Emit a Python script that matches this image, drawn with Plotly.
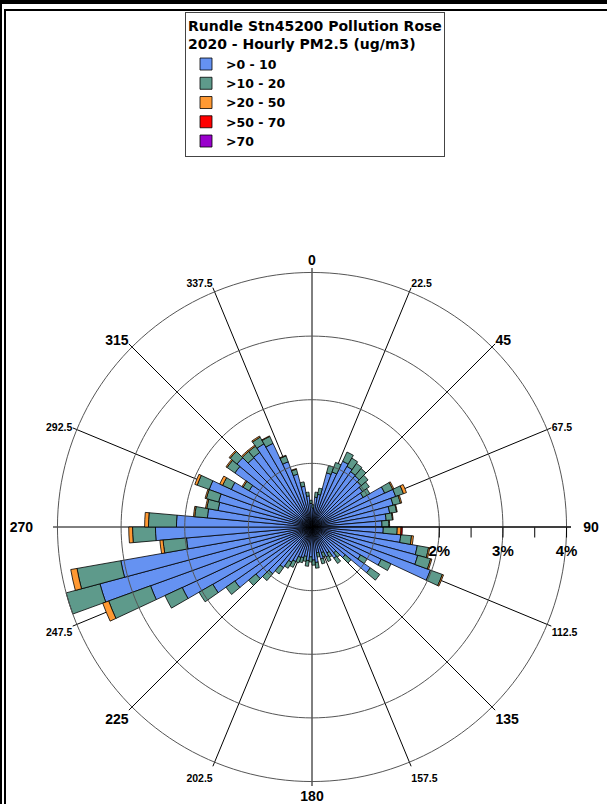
import plotly.graph_objects as go

# Wind direction bin centres (degrees, 5-degree bins)
DIRECTIONS = [
    2.5, 7.5, 12.5, 17.5, 22.5, 27.5, 32.5, 37.5, 42.5, 47.5, 52.5, 57.5,
    62.5, 67.5, 72.5, 77.5, 82.5, 87.5, 92.5, 97.5, 102.5, 107.5, 112.5, 117.5,
    122.5, 127.5, 132.5, 137.5, 142.5, 147.5, 152.5, 157.5, 162.5, 167.5, 172.5, 177.5,
    182.5, 187.5, 192.5, 197.5, 202.5, 207.5, 212.5, 217.5, 222.5, 227.5, 232.5, 237.5,
    242.5, 247.5, 252.5, 257.5, 262.5, 267.5, 272.5, 277.5, 282.5, 287.5, 292.5, 297.5,
    302.5, 307.5, 312.5, 317.5, 322.5, 327.5, 332.5, 337.5, 342.5, 347.5, 352.5, 357.5,
]

# Frequency (% of hours) per concentration class
PM_0_10 = [
    0.30, 0.47, 0.52, 0.88, 0.92, 1.14, 1.10, 1.06, 1.05, 1.01, 0.97, 0.93,
    1.26, 1.40, 1.32, 1.24, 1.17, 1.10, 1.12, 1.40, 1.68, 1.72, 1.98, 1.20,
    0.88, 1.12, 0.68, 0.53, 0.60, 0.47, 0.52, 0.43, 0.52, 0.41, 0.56, 0.52,
    0.47, 0.53, 0.47, 0.50, 0.51, 0.60, 0.64, 0.78, 0.96, 1.15, 1.48, 1.80,
    2.25, 2.70, 3.45, 3.05, 1.98, 2.46, 2.13, 1.65, 1.50, 1.52, 1.72, 1.40,
    1.14, 1.48, 1.54, 1.42, 1.43, 1.51, 1.45, 1.09, 0.86, 0.65, 0.49, 0.37,
]
PM_10_20 = [
    0.05, 0.08, 0.10, 0.12, 0.16, 0.16, 0.15, 0.16, 0.15, 0.14, 0.13, 0.12,
    0.14, 0.13, 0.12, 0.11, 0.10, 0.11, 0.22, 0.17, 0.18, 0.21, 0.20, 0.17,
    0.12, 0.18, 0.12, 0.09, 0.10, 0.08, 0.08, 0.07, 0.08, 0.07, 0.09, 0.08,
    0.08, 0.09, 0.08, 0.08, 0.09, 0.10, 0.11, 0.12, 0.14, 0.15, 0.17, 0.25,
    0.30, 0.70, 0.55, 0.70, 0.37, 0.36, 0.44, 0.20, 0.18, 0.20, 0.20, 0.15,
    0.11, 0.15, 0.14, 0.13, 0.12, 0.12, 0.12, 0.10, 0.08, 0.07, 0.06, 0.05,
]
PM_20_50 = [
    0.00, 0.00, 0.00, 0.00, 0.00, 0.00, 0.00, 0.00, 0.00, 0.00, 0.00, 0.00,
    0.02, 0.05, 0.02, 0.01, 0.01, 0.01, 0.06, 0.03, 0.02, 0.02, 0.02, 0.00,
    0.00, 0.00, 0.00, 0.00, 0.00, 0.00, 0.00, 0.00, 0.00, 0.00, 0.00, 0.00,
    0.00, 0.00, 0.00, 0.00, 0.00, 0.00, 0.00, 0.00, 0.00, 0.00, 0.00, 0.00,
    0.00, 0.10, 0.00, 0.10, 0.05, 0.06, 0.06, 0.02, 0.02, 0.02, 0.04, 0.05,
    0.02, 0.02, 0.02, 0.02, 0.02, 0.02, 0.01, 0.01, 0.01, 0.00, 0.00, 0.00,
]
PM_50_70 = [
    0.00, 0.00, 0.00, 0.00, 0.00, 0.00, 0.00, 0.00, 0.00, 0.00, 0.00, 0.00,
    0.00, 0.00, 0.00, 0.00, 0.00, 0.00, 0.02, 0.00, 0.00, 0.00, 0.00, 0.00,
    0.00, 0.00, 0.00, 0.00, 0.00, 0.00, 0.00, 0.00, 0.00, 0.00, 0.00, 0.00,
    0.00, 0.00, 0.00, 0.00, 0.00, 0.00, 0.00, 0.00, 0.00, 0.00, 0.00, 0.00,
    0.00, 0.00, 0.00, 0.00, 0.00, 0.00, 0.00, 0.00, 0.00, 0.00, 0.00, 0.00,
    0.00, 0.00, 0.00, 0.00, 0.00, 0.00, 0.00, 0.00, 0.00, 0.00, 0.00, 0.00,
]
PM_70_UP = [
    0.00, 0.00, 0.00, 0.00, 0.00, 0.00, 0.00, 0.00, 0.00, 0.00, 0.00, 0.00,
    0.00, 0.00, 0.00, 0.00, 0.00, 0.00, 0.00, 0.00, 0.00, 0.00, 0.00, 0.00,
    0.00, 0.00, 0.00, 0.00, 0.00, 0.00, 0.00, 0.00, 0.00, 0.00, 0.00, 0.00,
    0.00, 0.00, 0.00, 0.00, 0.00, 0.00, 0.00, 0.00, 0.00, 0.00, 0.00, 0.00,
    0.00, 0.00, 0.00, 0.00, 0.00, 0.00, 0.00, 0.00, 0.00, 0.00, 0.00, 0.00,
    0.00, 0.00, 0.00, 0.00, 0.00, 0.00, 0.00, 0.00, 0.00, 0.00, 0.00, 0.00,
]

CLASS_NAMES = ["&gt;0 - 10", "&gt;10 - 20", "&gt;20 - 50", "&gt;50 - 70", "&gt;70"]
CLASS_VALUES = [PM_0_10, PM_10_20, PM_20_50, PM_50_70, PM_70_UP]
CLASS_COLORS = ["#6592F2", "#5E9A8B", "#FF9933", "#FF0000", "#9900CC"]

ANGLE_TICKS = [0, 22.5, 45, 67.5, 90, 112.5, 135, 157.5,
               180, 202.5, 225, 247.5, 270, 292.5, 315, 337.5]
ANGLE_LABELS = ["0", "22.5", "45", "67.5", "90", "112.5", "135", "157.5",
                "180", "202.5", "225", "247.5", "270", "292.5", "315", "337.5"]
RING_LEVELS = [1, 2, 3, 4]
RADIAL_TICKS = [2, 2.5, 3, 3.5, 4]
RADIAL_LABELS = ["2%", "", "3%", "", "4%"]

TITLE = "Rundle Stn45200 Pollution Rose<br>2020 - Hourly PM2.5 (ug/m3)"
FONT = "Arial, Liberation Sans, sans-serif"
LEG_FONT = "DejaVu Sans, Arial, sans-serif"

W, H = 607, 804
NB = "\u00a0"

fig = go.Figure()

# concentric reference rings (drawn beneath the bars)
ring_theta = [i * 2 for i in range(181)]
for lev in RING_LEVELS:
    fig.add_trace(go.Scatterpolar(
        r=[lev] * len(ring_theta), theta=ring_theta, mode="lines",
        line=dict(color="#555555", width=1), showlegend=False, hoverinfo="skip",
    ))

for name, vals, col in zip(CLASS_NAMES, CLASS_VALUES, CLASS_COLORS):
    fig.add_trace(go.Barpolar(
        r=vals, theta=DIRECTIONS, width=5, name=name,
        marker=dict(color=col, line=dict(color="black", width=0.8)),
    ))


def angle_label(t):
    if "." in t:
        return f'<span style="font-size:10.5px">{t}</span>'
    if t == "270":
        return t + NB * 5
    if t == "90":
        return NB * 3 + t
    return t


angle_text = [angle_label(t) for t in ANGLE_LABELS]


def px_x(x):
    return x / W


def px_y(y):
    return 1 - y / H


shapes = [
    dict(type="rect", xref="paper", yref="paper", x0=0, x1=1, y0=px_y(4), y1=1,
         fillcolor="black", line=dict(width=0)),
    dict(type="rect", xref="paper", yref="paper", x0=0, x1=px_x(2), y0=0, y1=1,
         fillcolor="black", line=dict(width=0)),
    dict(type="rect", xref="paper", yref="paper", x0=px_x(4), x1=px_x(6), y0=0, y1=px_y(9),
         fillcolor="black", line=dict(width=0)),
    dict(type="rect", xref="paper", yref="paper", x0=px_x(6), x1=1, y0=px_y(11), y1=px_y(9),
         fillcolor="black", line=dict(width=0)),
]

fig.update_layout(
    width=W, height=H,
    margin=dict(l=0, r=0, t=0, b=0),
    paper_bgcolor="white",
    font=dict(family=FONT, color="black"),
    shapes=shapes,
    showlegend=True,
    legend=dict(
        x=px_x(185), y=px_y(12), xanchor="left", yanchor="top",
        bgcolor="white", bordercolor="#444444", borderwidth=1,
        font=dict(family=LEG_FONT, size=12.5, color="black", weight="bold"),
        title=dict(text=TITLE, side="top",
                   font=dict(family=LEG_FONT, size=14, color="black", weight="bold")),
        itemwidth=30, tracegroupgap=0,
    ),
    polar=dict(
        domain=dict(x=[px_x(53), px_x(571)], y=[px_y(786), px_y(268)]),
        bgcolor="white",
        bargap=0,
        barmode="stack",
        angularaxis=dict(
            rotation=90, direction="clockwise",
            tickmode="array", tickvals=ANGLE_TICKS, ticktext=angle_text,
            showgrid=True, gridcolor="black", gridwidth=1,
            showline=False, ticks="",
            tickfont=dict(family=FONT, size=14, color="black", weight="bold"),
        ),
        radialaxis=dict(
            range=[0, 4.07], angle=0, side="clockwise",
            tickmode="array", tickvals=RADIAL_TICKS, ticktext=RADIAL_LABELS,
            showgrid=False,
            showline=True, linecolor="black", linewidth=1,
            ticks="outside", ticklen=10, tickcolor="black",
            tickfont=dict(family=FONT, size=15, color="black", weight="bold"),
        ),
    ),
)

fig.write_html("out.html", config={"displayModeBar": False},
               post_script="document.body.style.margin='0px';")
